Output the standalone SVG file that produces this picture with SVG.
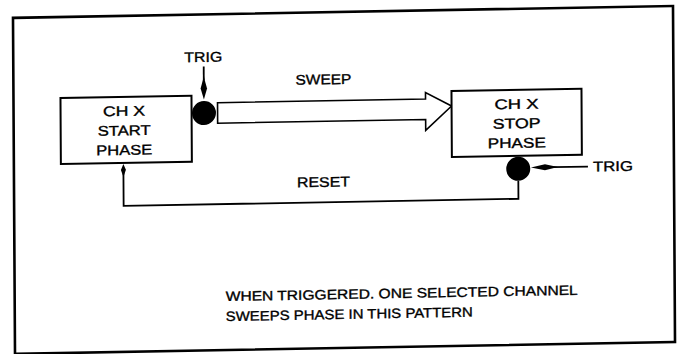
<svg xmlns="http://www.w3.org/2000/svg" width="681" height="354" viewBox="0 0 681 354">
<style>
.t{font-family:"Liberation Sans",Arial,sans-serif;font-size:14px;fill:#000;stroke:#000;stroke-width:0.35}
.s{font-size:13.5px}
.box{fill:#fff;stroke:#000;stroke-width:2}
.ln{fill:none;stroke:#000;stroke-width:1.8}
.dot{fill:#000}
</style>
<rect width="681" height="354" fill="#fff"/>
<g transform="matrix(1,-0.018,0.006,1,-1.08,6.12)">
<rect id="frame" x="14" y="12" width="660" height="336" fill="none" stroke="#000" stroke-width="2.6"/>
<g id="connectors">
  <path id="sweep" d="M218,100.5 H426 V94 L452,108 L426,132 V121 H218 Z" fill="#fff" stroke="#000" stroke-width="1.6" stroke-linejoin="miter"/>
  <g id="trig-top">
    <line class="ln" x1="204.4" y1="64" x2="204.4" y2="78"/>
    <polygon class="dot" points="204.4,74 207.6,86 204.4,97 201.2,86"/>
  </g>
  <g id="trig-right">
    <line class="ln" x1="588" y1="171" x2="552" y2="171"/>
    <polygon class="dot" points="531,171 545,168 558,171 545,174"/>
  </g>
  <g id="reset">
    <polyline class="ln" points="518.3,184 518.3,202 123.5,202 123.5,168"/>
    <polygon class="dot" points="123.5,160 126,166 123.5,173 121,166"/>
  </g>
</g>
<g id="start-phase">
  <rect class="box" x="61" y="93" width="131" height="66"/>
  <text class="t" x="124.5" y="112" text-anchor="middle" textLength="42" lengthAdjust="spacingAndGlyphs">CH X</text>
  <text class="t" x="124.5" y="131.5" text-anchor="middle" textLength="53" lengthAdjust="spacingAndGlyphs">START</text>
  <text class="t" x="124.5" y="151" text-anchor="middle" textLength="56" lengthAdjust="spacingAndGlyphs">PHASE</text>
</g>
<g id="stop-phase">
  <rect class="box" x="452" y="93" width="130" height="66"/>
  <text class="t" x="517" y="112" text-anchor="middle" textLength="44" lengthAdjust="spacingAndGlyphs">CH X</text>
  <text class="t" x="517" y="131.5" text-anchor="middle" textLength="48" lengthAdjust="spacingAndGlyphs">STOP</text>
  <text class="t" x="517" y="151" text-anchor="middle" textLength="58" lengthAdjust="spacingAndGlyphs">PHASE</text>
</g>
<g id="trig-start-node">
  <circle class="dot" cx="204.4" cy="110.6" r="12"/>
</g>
<g id="trig-stop-node">
  <circle class="dot" cx="518.3" cy="172" r="12"/>
</g>
<g id="labels">
  <text class="t" x="204" y="59.5" text-anchor="middle" textLength="38" lengthAdjust="spacingAndGlyphs">TRIG</text>
  <text class="t" x="324" y="84" text-anchor="middle" textLength="56" lengthAdjust="spacingAndGlyphs">SWEEP</text>
  <text class="t" x="323.5" y="186.5" text-anchor="middle" textLength="53" lengthAdjust="spacingAndGlyphs">RESET</text>
  <text class="t" x="593" y="176" textLength="40" lengthAdjust="spacingAndGlyphs">TRIG</text>
  <text class="t s" x="225" y="299" textLength="352" lengthAdjust="spacingAndGlyphs">WHEN TRIGGERED. ONE SELECTED CHANNEL</text>
  <text class="t s" x="225" y="319" textLength="247" lengthAdjust="spacingAndGlyphs">SWEEPS PHASE IN THIS PATTERN</text>
</g>
</g>
</svg>
